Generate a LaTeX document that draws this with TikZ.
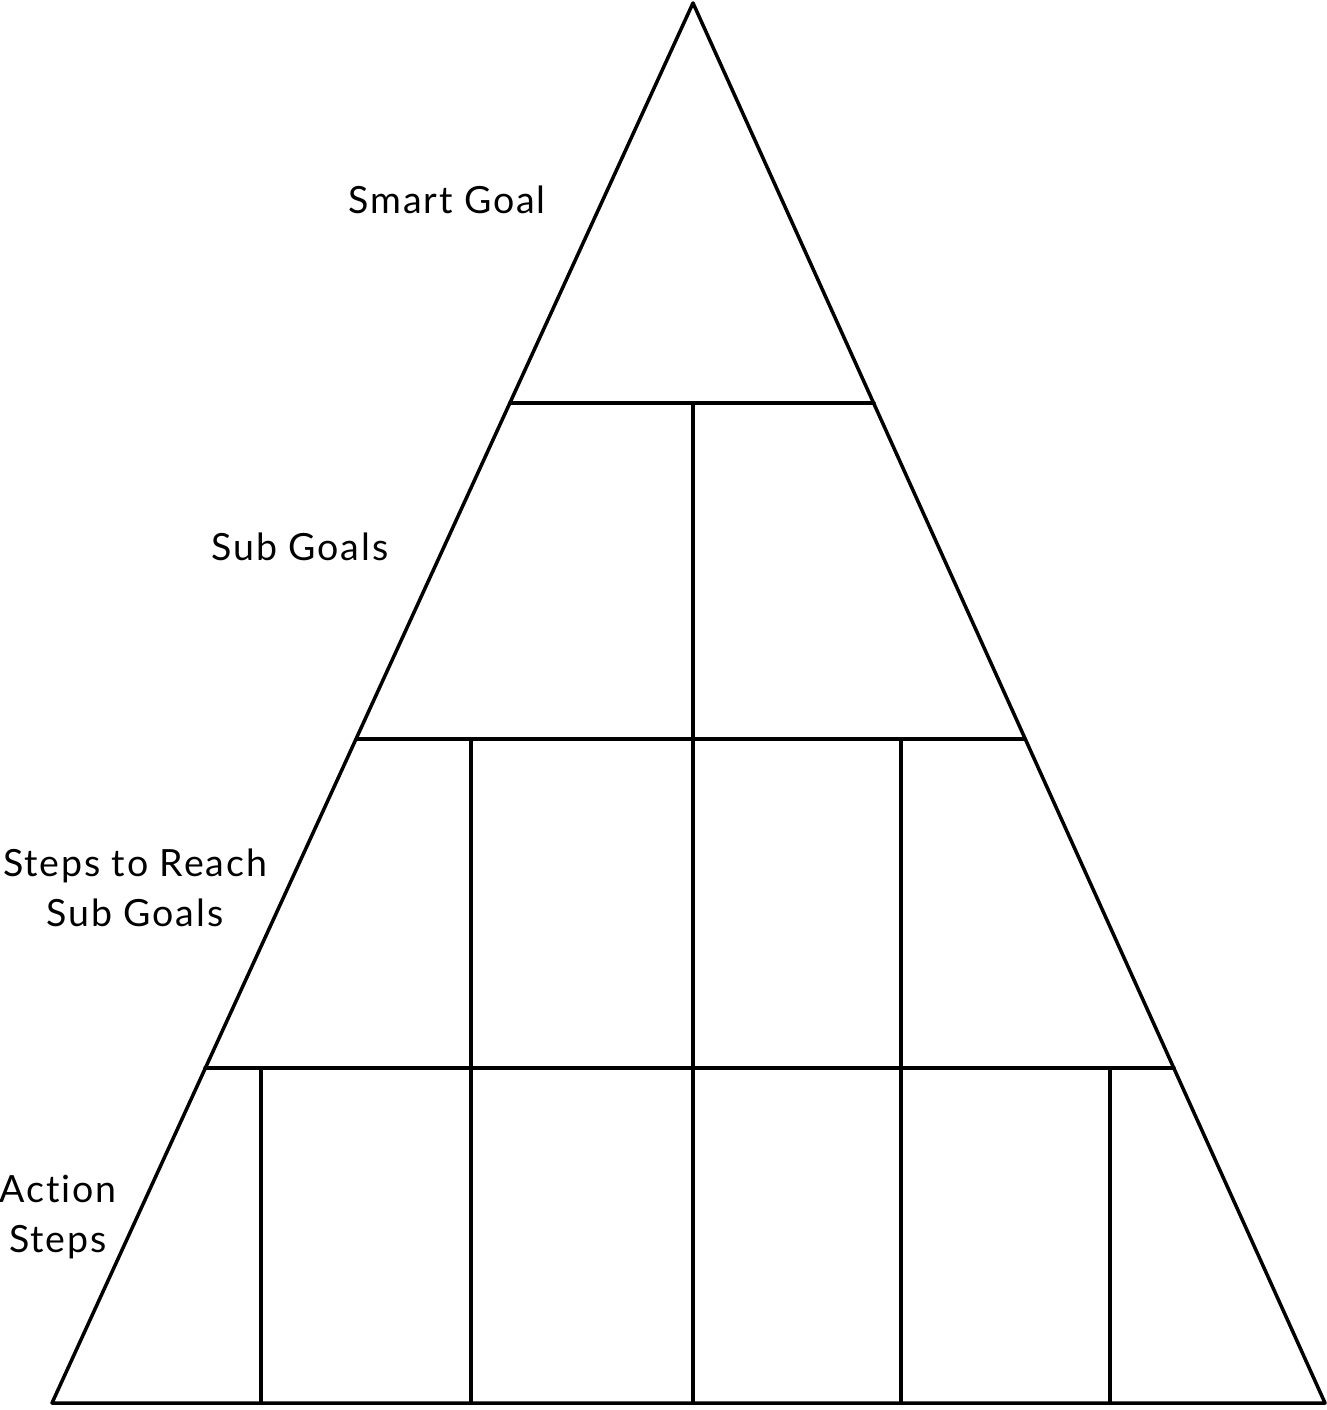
\documentclass[tikz,border=0pt]{standalone}
\usepackage{fontspec}
\setmainfont{Lato}[LetterSpace=5,Ligatures={CommonOff}]
\begin{document}
\begin{tikzpicture}[x=1pt,y=-1pt,
  edge/.style={line width=3.5pt,line join=round,line cap=round},
  lbl/.style={font=\fontsize{37.5}{50}\selectfont,inner sep=0pt,anchor=base,align=center}]
\useasboundingbox (0,0) rectangle (1327,1410);
% outline
\coordinate (apex) at (693,3);
\coordinate (bl) at (52,1403);
\coordinate (br) at (1325,1403);
\draw[edge] (apex) -- (bl) -- (br) -- cycle;
% horizontal levels
\coordinate (h1l) at (510,403); \coordinate (h1r) at (874,403);
\coordinate (h2l) at (357,739); \coordinate (h2r) at (1025,739);
\coordinate (h3l) at (205,1068); \coordinate (h3r) at (1174,1068);
\draw[edge] (h1l) -- (h1r);
\draw[edge] (h2l) -- (h2r);
\draw[edge] (h3l) -- (h3r);
% verticals
\coordinate (v0t) at (693,403); \coordinate (v0b) at (693,1403);
\coordinate (v1t) at (471,739); \coordinate (v1b) at (471,1403);
\coordinate (v2t) at (901,739); \coordinate (v2b) at (901,1403);
\coordinate (v3t) at (261,1068); \coordinate (v3b) at (261,1403);
\coordinate (v4t) at (1110,1068); \coordinate (v4b) at (1110,1403);
\draw[edge] (v0t) -- (v0b);
\draw[edge] (v1t) -- (v1b);
\draw[edge] (v2t) -- (v2b);
\draw[edge] (v3t) -- (v3b);
\draw[edge] (v4t) -- (v4b);
% labels
\node[lbl] (smart) at (447,213) {Smart Goal};
\node[lbl] (sub) at (300,560) {Sub Goals};
\node[lbl] (steps) at (135,926) {Steps to Reach\\Sub Goals};
\node[lbl] (action) at (58,1252) {Action\\Steps};
\end{tikzpicture}
\end{document}
